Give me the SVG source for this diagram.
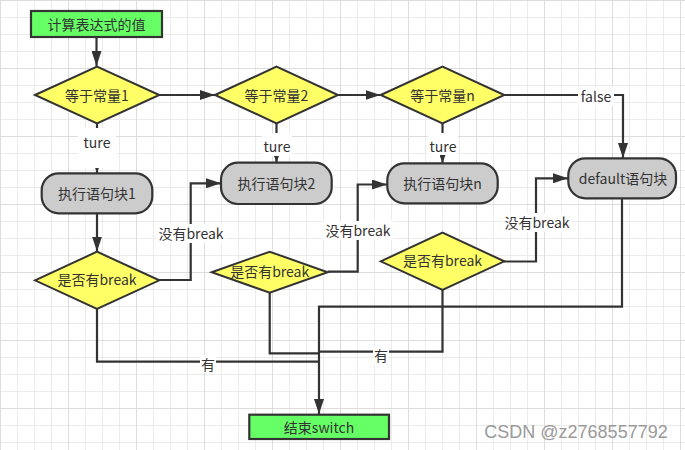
<svg xmlns="http://www.w3.org/2000/svg" width="685" height="450" viewBox="0 0 685 450">
<defs>
<pattern id="grid" patternUnits="userSpaceOnUse" width="68" height="68">
<path d="M17.5 0V68M34.5 0V68M51.5 0V68M0 17.5H68M0 34.5H68M0 51.5H68" stroke="#ebebeb" stroke-width="1" fill="none"/>
<path d="M0.5 0V68M0 0.5H68" stroke="#dcdcdc" stroke-width="1" fill="none"/>
</pattern>
<marker id="arr" markerUnits="userSpaceOnUse" markerWidth="15" markerHeight="10" refX="15" refY="5" orient="auto">
<path d="M0 0L15 5L0 10z" fill="#333"/>
</marker>
<marker id="arrs" markerUnits="userSpaceOnUse" markerWidth="8" markerHeight="6" refX="8" refY="3" orient="auto">
<path d="M0 0L8 3L0 6z" fill="#333"/>
</marker>
</defs>
<style>
text{font-family:"Noto Sans CJK SC","Noto Sans",sans-serif;font-size:14px;fill:#333;text-anchor:middle;dominant-baseline:central}
.c{fill:none;stroke:#333;stroke-width:2.2}
.a{marker-end:url(#arr)}
.as{marker-end:url(#arrs)}
.green{fill:#66ff66;stroke:#333;stroke-width:2.2}
.yel{fill:#ffff66;stroke:#333;stroke-width:2}
.gray{fill:#cccccc;stroke:#333;stroke-width:2.2}
.lb{fill:#fff}
</style>
<rect width="685" height="450" fill="#fff"/>
<rect width="685" height="450" fill="url(#grid)"/>

<g id="connectors">
<path class="c a" d="M96.5 37V66"/>
<path class="c a" d="M159 95H215"/>
<path class="c a" d="M338 95H380.5"/>
<path class="c a" d="M504 95H623V158"/>
<path class="c as" d="M97 123V173"/>
<path class="c as" d="M276.5 123V162.5"/>
<path class="c as" d="M442.5 123V163"/>
<path class="c a" d="M97 213V251.5"/>
<path class="c a" d="M159 280H190.7V183.3H221"/>
<path class="c a" d="M327.7 271.7H357.7V184.5H387"/>
<path class="c a" d="M504 261.5H536V178.3H568"/>
<path class="c a" d="M622 198.3V306.7H319V414"/>
<path class="c" d="M442.5 290V351.7H319"/>
<path class="c" d="M269.7 292.7V353.3H319"/>
<path class="c" d="M97 309V361.7H319"/>
<g id="labels">
<rect class="lb" x="78" y="128" width="38" height="40"/>
<text x="97" y="142">ture</text>
<rect class="lb" x="262" y="133" width="30" height="23"/>
<text x="277" y="146">ture</text>
<rect class="lb" x="428" y="133" width="30" height="22"/>
<text x="443" y="146">ture</text>
<rect class="lb" x="578" y="87" width="36" height="19"/>
<text x="596" y="96">false</text>
<rect class="lb" x="156" y="224" width="70" height="19"/>
<text x="191" y="233">没有break</text>
<rect class="lb" x="323" y="221" width="70" height="19"/>
<text x="358" y="230">没有break</text>
<rect class="lb" x="502" y="213" width="70" height="19"/>
<text x="537" y="222">没有break</text>
<rect class="lb" x="200" y="355" width="16" height="18"/>
<text x="208" y="364">有</text>
<rect class="lb" x="373" y="346" width="16" height="18"/>
<text x="381" y="355">有</text>
</g>
</g>

<g id="start">
<rect class="green" x="31" y="11" width="131" height="26"/>
<text x="96.5" y="24" style="font-size:14px">计算表达式的值</text>
</g>
<g id="d1">
<polygon class="yel" points="35,95 97,66.7 159.3,95 97,123.3"/>
<text x="97" y="95">等于常量1</text>
</g>
<g id="d2">
<polygon class="yel" points="215,95 276.5,66.7 338,95 276.5,123.3"/>
<text x="276.5" y="95">等于常量2</text>
</g>
<g id="d3">
<polygon class="yel" points="380.7,95 442.5,66.7 504.3,95 442.5,123.3"/>
<text x="442.5" y="95">等于常量n</text>
</g>
<g id="b1">
<rect class="gray" x="41.7" y="173.3" width="110.6" height="40" rx="17"/>
<text x="97" y="193.3">执行语句块1</text>
</g>
<g id="b2">
<rect class="gray" x="221" y="162.7" width="110.7" height="41.3" rx="17"/>
<text x="276.3" y="183.3">执行语句块2</text>
</g>
<g id="bn">
<rect class="gray" x="387.3" y="163.3" width="110.4" height="40" rx="17"/>
<text x="442.5" y="183.3">执行语句块n</text>
</g>
<g id="default">
<rect class="gray" x="568.3" y="158.3" width="107.7" height="40" rx="17"/>
<text x="623" y="178">default语句块</text>
</g>
<g id="d1b">
<polygon class="yel" points="35,280.3 97,251.7 159.3,280.3 97,309"/>
<text x="97" y="279">是否有break</text>
</g>
<g id="d2b">
<polygon class="yel" points="211.7,272.2 269.7,251.7 327.7,272.2 269.7,292.7"/>
<text x="269.7" y="270.7">是否有break</text>
</g>
<g id="d3b">
<polygon class="yel" points="380.7,261.3 442.5,232.7 504.3,261.3 442.5,290"/>
<text x="442.5" y="260">是否有break</text>
</g>
<g id="end">
<rect class="green" x="249.3" y="414.7" width="139.7" height="24.3"/>
<text x="319" y="426.8">结束switch</text>
</g>
<text x="576" y="432" style="font-family:'Liberation Sans',Arial,sans-serif;font-size:18px;fill:#9a9a9a">CSDN @z2768557792</text>
</svg>
